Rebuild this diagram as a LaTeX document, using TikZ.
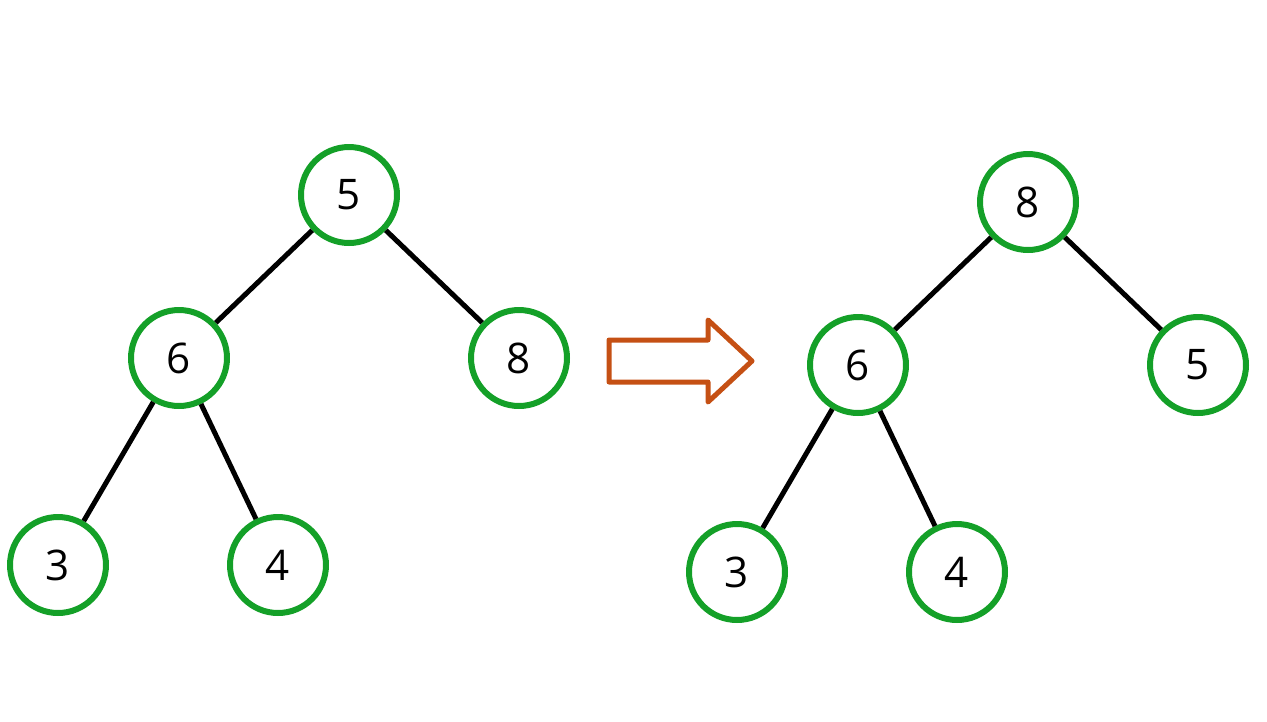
\documentclass[tikz,border=0pt]{standalone}
\usepackage{fontspec}
\setmainfont{Open Sans}
\begin{document}
\begin{tikzpicture}[x=0.02cm,y=-0.02cm,
  nd/.style={circle,draw=green!60!black,draw={rgb,255:red,20;green,160;blue,40},line width=0.12cm,minimum size=1.92cm,inner sep=0pt,font=\fontsize{24}{28}\selectfont},
  ed/.style={line width=0.1cm,black}]
\useasboundingbox (0,0) rectangle (1267,721);
\node[nd] (a5) at (349,195) {5};
\node[nd] (a6) at (179,358) {6};
\node[nd] (a8) at (519,358) {8};
\node[nd] (a3) at (58,565) {3};
\node[nd] (a4) at (278,565) {4};
\draw[ed] (a5)--(a6) (a5)--(a8) (a6)--(a3) (a6)--(a4);
\node[nd] (b8) at (1028,202) {8};
\node[nd] (b6) at (858,365) {6};
\node[nd] (b5) at (1198,365) {5};
\node[nd] (b3) at (737,572) {3};
\node[nd] (b4) at (957,572) {4};
\draw[ed] (b8)--(b6) (b8)--(b5) (b6)--(b3) (b6)--(b4);
\definecolor{arr}{RGB}{197,80,20}
\draw[arr,line width=0.1cm,line join=round] (609,340)--(708,340)--(708,320)--(752,361)--(708,402)--(708,382)--(609,382)--cycle;
\end{tikzpicture}
\end{document}
